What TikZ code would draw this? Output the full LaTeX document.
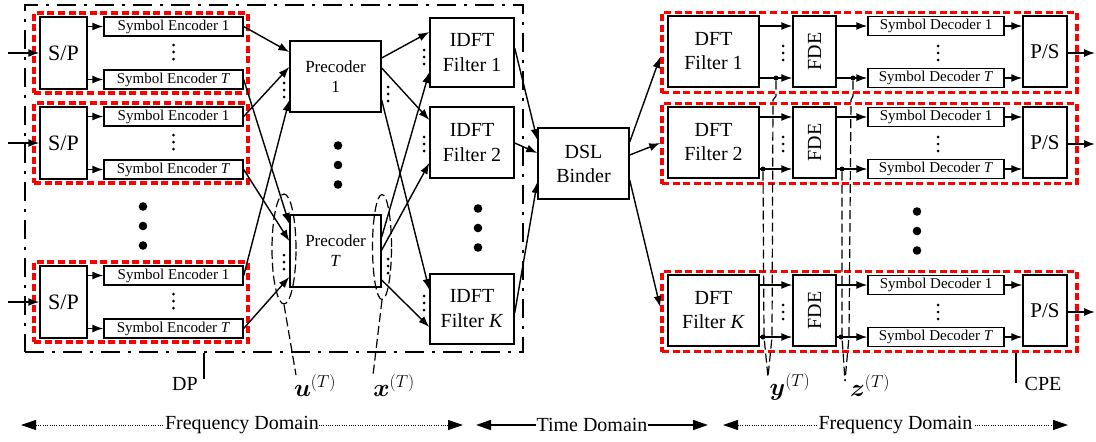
\documentclass[tikz,border=0pt]{standalone}
\usepackage{fontspec}
\setmainfont{Liberation Serif}
\usepackage{amsmath}
\usetikzlibrary{arrows.meta,shapes.geometric}
\begin{document}
\begin{tikzpicture}[x=1pt,y=-1pt,
  box/.style={draw, line width=1.4pt, inner sep=0pt, align=center},
  encbox/.style={box, minimum width=139, minimum height=19, font=\fontsize{15}{18}\selectfont},
  decbox/.style={box, minimum width=136, minimum height=18.5, font=\fontsize{15}{18}\selectfont},
  bigbox/.style={box, font=\fontsize{20}{24}\selectfont},
  redbox/.style={draw=red, line width=3.6pt, dash pattern=on 7pt off 3.6pt, inner sep=0pt},
  dpbox/.style={draw, line width=2.6pt, dash pattern=on 19pt off 8pt on 3pt off 8pt, inner sep=0pt},
  arr/.style={line width=1.4pt, -{Latex[length=11pt,width=8pt]}},
  guide/.style={line width=1.2pt, dash pattern=on 9pt off 4pt},
  lbl/.style={font=\fontsize{20}{24}\selectfont, inner sep=0pt},
  mlbl/.style={font=\fontsize{25}{30}\selectfont, inner sep=0pt},
  domarrow/.style={{Triangle[length=15pt,width=10pt]}-{Triangle[length=15pt,width=10pt]}},
  domtext/.style={fill=white, inner xsep=0.5pt, inner ysep=2pt, font=\fontsize{20}{24}\selectfont},
  tap/.style={circle, fill, inner sep=0pt, minimum size=5},
  smalldots/.pic={\fill (0,-7) circle (1.5) (0,0) circle (1.5) (0,7) circle (1.5);},
  bigdots/.pic={\fill (0,-19.5) circle (4.3) (0,0) circle (4.3) (0,19.5) circle (4.3);}
]
\useasboundingbox (0,0) rectangle (1096,442);

% ---------------- transmitter side (DP) ----------------
\node[dpbox, minimum width=498, minimum height=347] (dp) at (274,178.5) {};

\foreach \bn/\by in {1/17,2/107,3/266}{
  \node[redbox, minimum width=214, minimum height=80] (rl\bn) at (141,\by+36) {};
  \node[box, minimum width=47, minimum height=72, font=\fontsize{22}{26}\selectfont] (sp\bn) at (63.5,\by+36) {S/P};
  \node[encbox] (ea\bn) at (173.5,\by+9.5) {Symbol Encoder 1};
  \node[encbox] (et\bn) at (173.5,\by+62.5) {Symbol Encoder \textit{T}};
  \coordinate (in\bn) at (8,\by+36);
  \draw[arr] (in\bn) -- (sp\bn.west);
  \draw[arr] (sp\bn.east |- ea\bn) -- (ea\bn.west);
  \draw[arr] (sp\bn.east |- et\bn) -- (et\bn.west);
  \pic at (173.5,\by+35) {smalldots};
}
\pic at (143,226) {bigdots};

% precoders
\node[box, minimum width=91, minimum height=71, font=\fontsize{17}{20}\selectfont] (p1) at (335.5,76.5) {Precoder\\1};
\node[box, minimum width=91, minimum height=72, font=\fontsize{17}{20}\selectfont] (pT) at (335.5,251) {Precoder\\\textit{T}};
\pic at (338,165) {bigdots};

% IDFT filters
\node[bigbox, minimum width=84, minimum height=69, font=\fontsize{20}{25}\selectfont] (f1) at (472,52.5) {IDFT\\Filter 1};
\node[bigbox, minimum width=84, minimum height=71, font=\fontsize{20}{25}\selectfont] (f2) at (472,142.5) {IDFT\\Filter 2};
\node[bigbox, minimum width=84, minimum height=70, font=\fontsize{20}{25}\selectfont] (fK) at (472,309) {IDFT\\Filter \textit{K}};
\pic at (478,228) {bigdots};

% encoders -> precoders
\draw[arr] (ea1.east) -- (p1.west |- 0,52);
\draw[arr] (ea2.east) -- (p1.west |- 0,67);
\draw[arr] (ea3.east) -- (p1.west |- 0,100);
\draw[arr] (et1.east) -- (pT.west |- 0,224);
\draw[arr] (et2.east) -- (pT.west |- 0,241);
\draw[arr] (et3.east) -- (pT.west |- 0,277);
\pic at (284,90) {smalldots};
\pic at (284,262) {smalldots};

% precoders -> IDFT filters
\draw[arr] (p1.east |- 0,58) -- (f1.west |- 0,32);
\draw[arr] (p1.east |- 0,68) -- (f2.west |- 0,120);
\draw[arr] (p1.east |- 0,100) -- (fK.west |- 0,290);
\draw[arr] (pT.east |- 0,237) -- (f1.west |- 0,72);
\draw[arr] (pT.east |- 0,250) -- (f2.west |- 0,163);
\draw[arr] (pT.east |- 0,280) -- (fK.west |- 0,327);
\pic at (388,94) {smalldots};
\pic at (388,266) {smalldots};
\pic at (424,57) {smalldots};
\pic at (424,144) {smalldots};
\pic at (424,303) {smalldots};

% selection ellipses
\node[ellipse, draw, guide, minimum width=24, minimum height=110, inner sep=0pt] (eu) at (284,249) {};
\node[ellipse, draw, guide, minimum width=19, minimum height=105, inner sep=0pt] (ex) at (382,247) {};
\coordinate (uend) at (296,375);
\coordinate (xend) at (373,375);
\draw[guide] (eu.south) -- (uend);
\draw[guide] (ex.south) -- (xend);
\node[mlbl] (lu) at (315,386) {$\boldsymbol{u}^{(T)}$};
\node[mlbl] (lx) at (394,386) {$\boldsymbol{x}^{(T)}$};

\coordinate (dptick) at (204,379);
\draw[line width=1.2pt] (dptick |- dp.south) -- (dptick);
\node[lbl] (ldp) at (185,384) {DP};

% ---------------- channel ----------------
\node[bigbox, minimum width=91, minimum height=71] (dsl) at (583.5,163.5) {DSL\\Binder};
\draw[arr] (f1.east |- 0,48) -- (dsl.west |- 0,140);
\draw[arr] (f2.east |- 0,143) -- (dsl.west |- 0,153);
\draw[arr] (fK.east |- 0,313) -- (dsl.west |- 0,182);

% ---------------- receiver side (CPE) ----------------
\foreach \bn/\by/\bl in {1/16/1,2/107/2,K/275/\textit{K}}{
  \node[redbox, minimum width=415, minimum height=80] (rd\bn) at (869.5,\by+36.5) {};
  \node[bigbox, minimum width=91, minimum height=71] (dft\bn) at (713.5,\by+35.5) {DFT\\Filter \bl};
  \node[bigbox, minimum width=43, minimum height=71] (fde\bn) at (814.5,\by+35.5) {\rotatebox{90}{FDE}};
  \node[decbox] (da\bn) at (936,\by+10) {Symbol Decoder 1};
  \node[decbox] (dt\bn) at (936,\by+62) {Symbol Decoder \textit{T}};
  \node[box, minimum width=44, minimum height=71, font=\fontsize{21}{25}\selectfont] (ps\bn) at (1045,\by+35.5) {P/S};
  \coordinate (out\bn) at (1095,\by+37);
  \draw[arr] (dft\bn.east |- da\bn) -- (fde\bn.west |- da\bn);
  \draw[arr] (dft\bn.east |- dt\bn) -- (fde\bn.west |- dt\bn);
  \draw[arr] (fde\bn.east |- da\bn) -- (da\bn.west);
  \draw[arr] (fde\bn.east |- dt\bn) -- (dt\bn.west);
  \draw[arr] (da\bn.east) -- (ps\bn.west |- da\bn);
  \draw[arr] (dt\bn.east) -- (ps\bn.west |- dt\bn);
  \draw[arr] (ps\bn.east |- out\bn) -- (out\bn);
  \pic at (783,\by+37) {smalldots};
  \pic at (938,\by+37) {smalldots};
}
\pic at (917,231) {bigdots};

\draw[arr] (dsl.east |- 0,142) -- (rd1.west |- 0,57);
\draw[arr] (dsl.east |- 0,155) -- (rd2.west |- 0,143);
\draw[arr] (dsl.east |- 0,180) -- (rdK.west |- 0,307);

% taps collecting the T-th branch
\node[tap] (ty1) at (776,78) {};
\node[tap] (tz1) at (853,78) {};
\node[tap] (ty2) at (763,169) {};
\node[tap] (tz2) at (842,169) {};
\node[tap] (tyK) at (763,337) {};
\node[tap] (tzK) at (841,337) {};
\coordinate (yend) at (768,377);
\coordinate (zend) at (845,381);
\draw[guide] (ty1) -- (776,96) -- (773,100) -- (772,337) -- (yend);
\draw[guide] (ty2) -- (764,337) -- (yend);
\draw[guide] (tz1) -- (853,96) -- (851,100) -- (849,337) -- (zend);
\draw[guide] (tz2) -- (842,337) -- (zend);
\node[mlbl] (ly) at (790,387) {$\boldsymbol{y}^{(T)}$};
\node[mlbl] (lz) at (870,386) {$\boldsymbol{z}^{(T)}$};

\coordinate (cpetick) at (1016,383);
\draw[line width=1.2pt] (cpetick |- rdK.south) -- (cpetick);
\node[lbl] (lcpe) at (1043,384) {CPE};

% ---------------- domains ----------------
\coordinate (fa) at (21,425);
\coordinate (fb) at (463,425);
\coordinate (ta) at (476,425);
\coordinate (tb) at (708,425);
\coordinate (ga) at (723,425);
\coordinate (gb) at (1068,425);
\draw[domarrow, line width=1pt, dash pattern=on 1pt off 1.3pt] (fa) -- (fb) node[midway, domtext] (dom1) {Frequency Domain};
\draw[domarrow, line width=1.7pt] (ta) -- (tb) node[midway, domtext] (dom2) {Time Domain};
\draw[domarrow, line width=1pt, dash pattern=on 1pt off 1.3pt] (ga) -- (gb) node[midway, domtext] (dom3) {Frequency Domain};
\end{tikzpicture}
\end{document}
